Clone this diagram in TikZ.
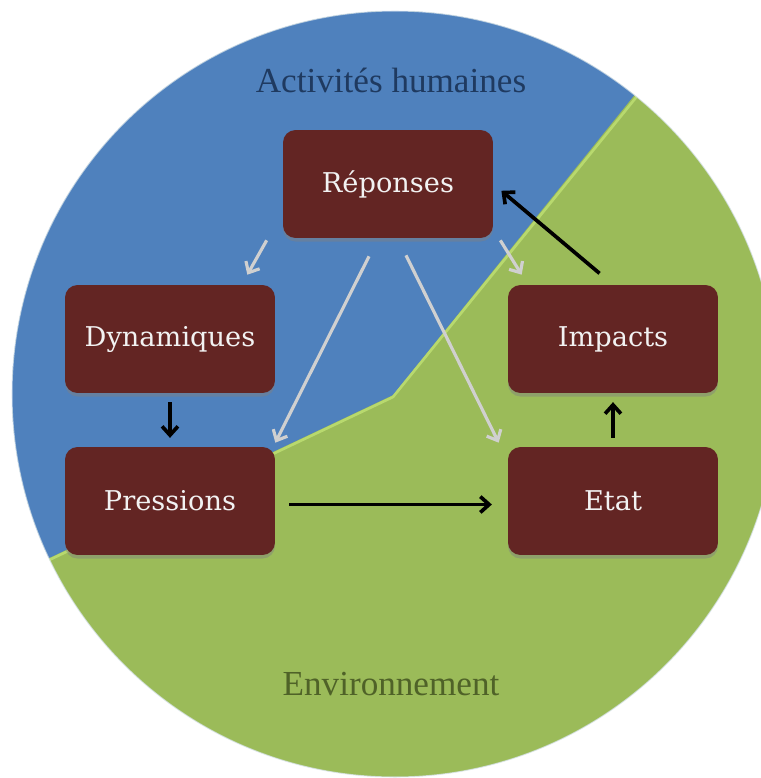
\documentclass[tikz,border=0pt]{standalone}
\usepackage{fontspec}
\setmainfont{Liberation Serif}
\newfontfamily\boxfont{DejaVu Serif}
\usetikzlibrary{
    positioning,    % relative placement
    arrows.meta,    % Straight Barb tips
    calc,           % shifted anchors
    shadows         % drop shadow under the boxes
}
\definecolor{humanblue}{HTML}{4F81BD}
\definecolor{envgreen}{HTML}{9BBB59}
\definecolor{boxred}{HTML}{632523}
\definecolor{titleblue}{HTML}{1F3A60}
\definecolor{titlegreen}{HTML}{4F6228}
\definecolor{ridgegreen}{HTML}{B8D96E}
\definecolor{arrowgray}{HTML}{D0D0D0}

\begin{document}
\begin{tikzpicture}[
    x=0.02cm, y=-0.02cm,
    stage/.style={rectangle, rounded corners=0.25cm, fill=boxred, minimum width=4.2cm, minimum height=2.16cm,
        text=white!95!black, font=\boxfont\fontsize{15.5}{18}\selectfont,
        drop shadow={shadow xshift=0pt, shadow yshift=-2pt, opacity=0.45}},
    zone/.style={font=\fontsize{20}{24}\selectfont},
    darrow/.style={-{Straight Barb[length=5pt, width=9pt]}, line width=2.1pt, black},
    garrow/.style={-{Straight Barb[length=5pt, width=9pt]}, line width=1.8pt, arrowgray}
]
    \useasboundingbox (0,0) rectangle (761,778);

    % Background disc: environment below, human activities above
    \fill[envgreen] (395,394) circle (383);
    \begin{scope}
        \clip (395,394) circle (383);
        \fill[humanblue] (-50,605) -- (393,395) -- (632,98) -- (740,-36) -- (-50,-36) -- cycle;
        \draw[ridgegreen, line width=1.5pt] (-50,607) -- (393,397) -- (634,100) -- (742,-34);
    \end{scope}
    \draw[white!80!humanblue, line width=0.6pt, opacity=0.7] (395,394) circle (383);

    % Zone titles
    \node[zone, text=titleblue] (acth) at (391,80) {Activités humaines};
    \node[zone, text=titlegreen] (envt) at (391,684) {Environnement};

    % DPSIR boxes
    \node[stage] (rep) at (388,184) {Réponses};
    \node[stage] (dyn) at (170,339) {Dynamiques};
    \node[stage] (pres) at (170,501) {Pressions};
    \node[stage] (imp) at (613,339) {Impacts};
    \node[stage] (etat) at (613,501) {Etat};

    % Causal chain
    \draw[darrow, shorten <=5pt, shorten >=5pt] (dyn) -- (pres);
    \draw[darrow, shorten <=8pt, shorten >=9pt] ([yshift=-2pt]pres.east) -- ([yshift=-2pt]etat.west);
    \draw[darrow, shorten <=5pt, shorten >=5pt] (etat) -- (imp);
    \draw[darrow, shorten <=10pt, shorten >=6pt] (imp.north) -- (rep.east);

    % Responses feed back
    \draw[garrow] ($(rep.south west)+(-16,2)$) -- ($(dyn.north east)+(-28,-10)$);
    \draw[garrow] ($(rep.south)+(-19,18)$) -- ($(pres.north east)+(0,-4)$);
    \draw[garrow] ($(rep.south)+(18,17)$) -- ($(etat.north west)+(-9,-4)$);
    \draw[garrow] ($(rep.south east)+(7,2)$) -- ($(imp.north west)+(14,-10)$);
\end{tikzpicture}
\end{document}
